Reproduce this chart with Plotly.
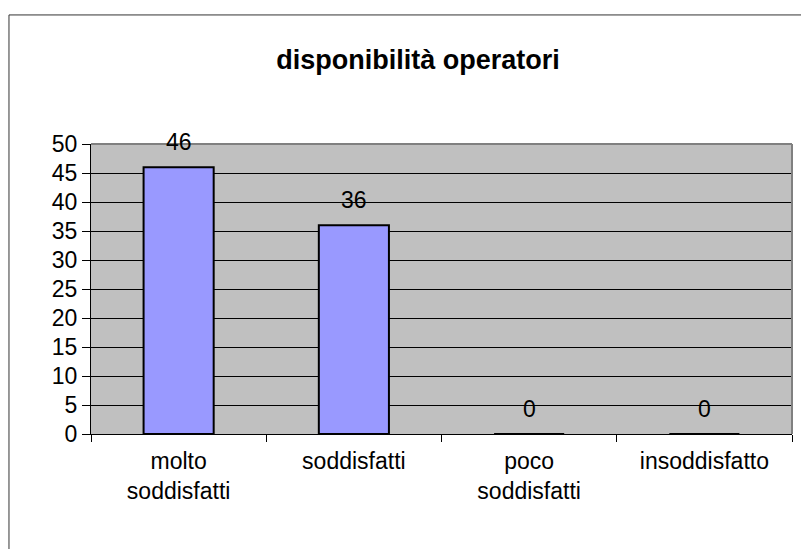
import plotly.graph_objects as go

categorie = ["molto<br>soddisfatti", "soddisfatti", "poco<br>soddisfatti", "insoddisfatto"]
valori = [46, 36, 0, 0]
tick_y = [0, 5, 10, 15, 20, 25, 30, 35, 40, 45, 50]

FONT = "Liberation Sans, Arial, sans-serif"

# la pagina html ha un margine di 8px: la figura è un po' più piccola
W, H = 801, 541

fig = go.Figure()

fig.add_trace(go.Bar(
    x=categorie,
    y=valori,
    width=0.4,
    marker=dict(color="#9999FF", line=dict(color="black", width=2)),
    hoverinfo="x+y",
))

# etichette dei valori sopra le barre
for c, v in zip(categorie, valori):
    fig.add_annotation(
        x=c, y=v, text=str(v), showarrow=False,
        yanchor="middle", yshift=25,
        font=dict(family=FONT, size=23, color="black"),
    )

# bordo grigio superiore e destro dell'area del grafico
fig.add_shape(type="line", xref="paper", yref="paper", x0=0, x1=1, y0=1, y1=1,
              line=dict(color="#808080", width=2))
fig.add_shape(type="line", xref="paper", yref="paper", x0=1, x1=1, y0=0, y1=1,
              line=dict(color="#808080", width=2))

# cornice esterna del grafico
fig.add_shape(type="rect", xref="paper", yref="paper",
              x0=-0.117, x1=1.2, y0=-1, y1=1.445,
              line=dict(color="#333333", width=1))

fig.update_layout(
    width=W,
    height=H,
    margin=dict(l=83, r=17, t=136, b=115),
    paper_bgcolor="white",
    plot_bgcolor="#C0C0C0",
    showlegend=False,
    font=dict(family=FONT, size=23, color="black"),
    title=dict(
        text="<b>disponibilità operatori</b>",
        x=0.512, xanchor="center",
        y=1 - 52 / H, yanchor="middle",
        font=dict(family=FONT, size=27, color="black"),
    ),
    xaxis=dict(
        showline=True, linecolor="black", linewidth=1,
        ticks="outside", tickson="boundaries", ticklen=7, tickcolor="black",
        showgrid=False,
        ticklabelstandoff=6,
        tickfont=dict(family=FONT, size=23, color="black"),
    ),
    yaxis=dict(
        range=[0, 50],
        tickvals=tick_y,
        showline=True, linecolor="black", linewidth=1,
        ticks="outside", ticklen=8, tickcolor="black",
        showgrid=True, gridcolor="black", gridwidth=1,
        zeroline=False,
        tickfont=dict(family=FONT, size=23, color="black"),
    ),
)

fig.write_html("out.html")
